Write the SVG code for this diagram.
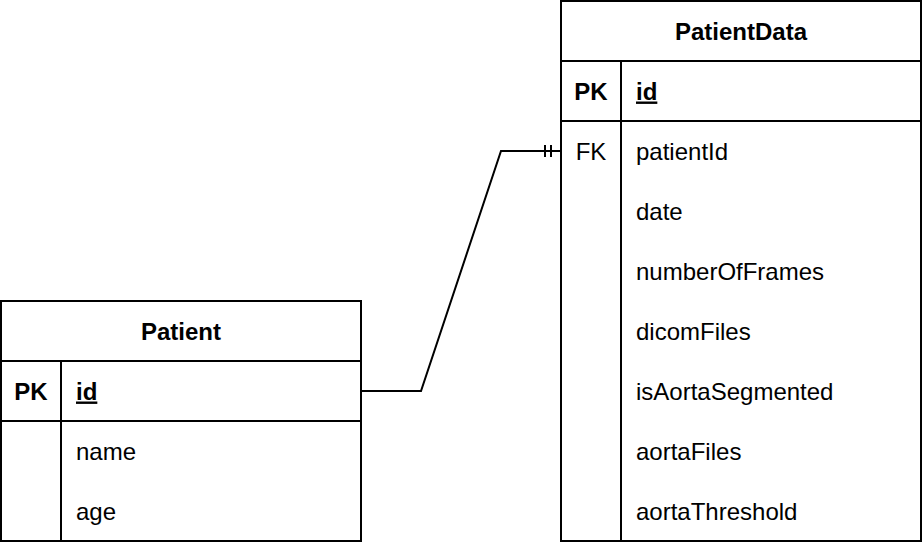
<svg xmlns="http://www.w3.org/2000/svg" width="922" height="542" viewBox="0 0 922 542">
<defs>
<style>
.box{fill:#ffffff;stroke:#000000;stroke-width:2}
.ln{fill:none;stroke:#000000;stroke-width:2}
text{font-family:"Liberation Sans",Arial,sans-serif;font-size:24px;fill:#000000}
.b{font-weight:bold}
.c{text-anchor:middle}
.u{text-decoration:underline}
</style>
</defs>
<rect width="922" height="542" fill="#ffffff"/>
<g id="patient">
<rect class="box" x="1" y="301" width="360" height="240"/>
<line class="ln" x1="1" y1="361" x2="361" y2="361"/>
<line class="ln" x1="1" y1="421" x2="361" y2="421"/>
<line class="ln" x1="61" y1="361" x2="61" y2="541"/>
<text class="b c" x="181" y="339.5">Patient</text>
<text class="b c" x="31" y="399.5">PK</text>
<text class="b u" x="76" y="399.5">id</text>
<text x="76" y="459.5">name</text>
<text x="76" y="519.5">age</text>
</g>
<g id="patientdata">
<rect class="box" x="561" y="1" width="360" height="540"/>
<line class="ln" x1="561" y1="61" x2="921" y2="61"/>
<line class="ln" x1="561" y1="121" x2="921" y2="121"/>
<line class="ln" x1="621" y1="61" x2="621" y2="541"/>
<text class="b c" x="741" y="39.5">PatientData</text>
<text class="b c" x="591" y="99.5">PK</text>
<text class="b u" x="636" y="99.5">id</text>
<text class="c" x="591" y="159.5">FK</text>
<text x="636" y="159.5">patientId</text>
<text x="636" y="219.5">date</text>
<text x="636" y="279.5">numberOfFrames</text>
<text x="636" y="339.5">dicomFiles</text>
<text x="636" y="399.5">isAortaSegmented</text>
<text x="636" y="459.5">aortaFiles</text>
<text x="636" y="519.5">aortaThreshold</text>
</g>
<g id="connectors">
<path class="ln" d="M361 391 H421 L501 151 H561"/>
<line class="ln" x1="545" y1="145" x2="545" y2="157"/>
<line class="ln" x1="551" y1="145" x2="551" y2="157"/>
</g>
</svg>
